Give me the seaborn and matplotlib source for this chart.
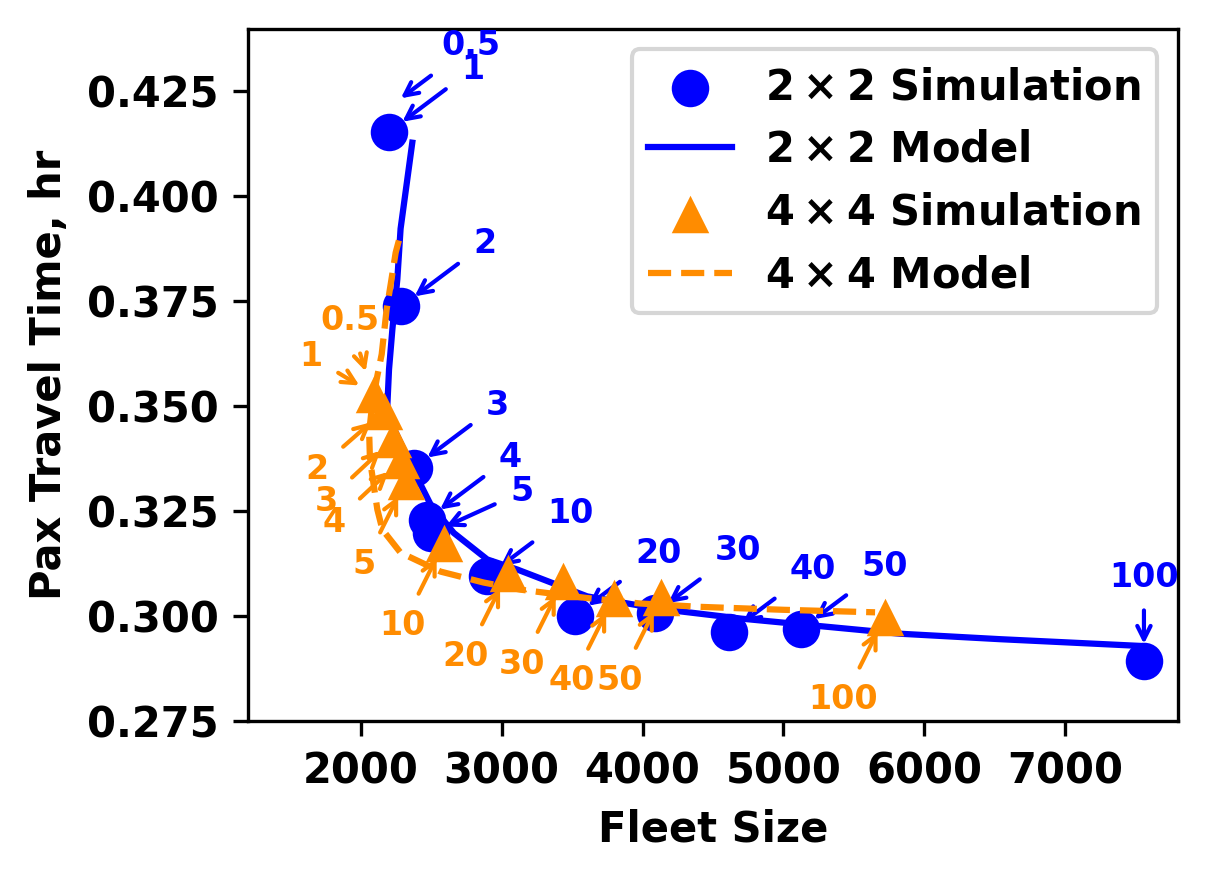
import matplotlib
matplotlib.use("Agg")
import matplotlib.pyplot as plt
import seaborn as sns

plt.rcParams["font.family"] = ["DejaVu Sans"]
plt.rcParams["font.weight"] = "bold"
plt.rcParams["axes.labelweight"] = "bold"

# parameter value shown next to each simulation point
params = ["0.5", "1", "2", "3", "4", "5", "10", "20", "30", "40", "50", "100"]

# 2x2 network, simulation results
sim22_fleet = [2190, 2201, 2288, 2378, 2468, 2496, 2898, 3519, 4086, 4617, 5125, 7558]
sim22_time = [0.4210, 0.4154, 0.3738, 0.3354, 0.3230, 0.3197, 0.3095, 0.3001, 0.3007, 0.2961, 0.2969, 0.2894]

# 4x4 network, simulation results
sim44_fleet = [2071, 2092, 2163, 2227, 2283, 2319, 2592, 3042, 3437, 3795, 4133, 5721]
sim44_time = [0.3545, 0.3529, 0.3488, 0.3421, 0.3371, 0.3321, 0.3175, 0.3102, 0.3084, 0.3044, 0.3046, 0.2999]

# model curves
model22_fleet = [2366, 2283, 2260, 2225, 2201, 2189, 2213, 2248, 2354, 2496, 2661, 2898, 3111, 3607, 4100, 4700, 5827, 6536, 7528]
model22_time = [0.4128, 0.3923, 0.3803, 0.3684, 0.3588, 0.3501, 0.3462, 0.3438, 0.3361, 0.3266, 0.3198, 0.3135, 0.3111, 0.3047, 0.3018, 0.2994, 0.2958, 0.2945, 0.2929]

model44_fleet = [2271, 2248, 2213, 2184, 2149, 2113, 2080, 2060, 2065, 2078, 2118, 2154, 2283, 2567, 2872, 3134, 3607, 3984, 4410, 5000, 5650]
model44_time = [0.3895, 0.3866, 0.3791, 0.3731, 0.3624, 0.3564, 0.3500, 0.3438, 0.3380, 0.3345, 0.3254, 0.3206, 0.3151, 0.3106, 0.3080, 0.3063, 0.3043, 0.3030, 0.3022, 0.3015, 0.3009]

# label offsets (points)
off22 = [(20, 15)] * 5 + [(22, 10)] + [(20, 15)] * 5 + [(0, 20)]
off44 = [(-5, 16), (-15, 9), (-16, -14), (-16, -15), (-16, -15), (-10, -20)] + [(-10, -20)] * 6

blue = "#0000ff"
orange = "#ff8c00"

fig, ax = plt.subplots(figsize=(1209 / 300, 878 / 300), dpi=300)
fig.subplots_adjust(left=0.2051, right=0.9744, bottom=0.1788, top=0.9675)

# the 0.5 case is annotated only, no marker
sns.scatterplot(x=sim22_fleet[1:], y=sim22_time[1:], marker="o", s=81, color=blue,
                linewidth=0, label=r"$\mathbf{2\times2}$ Simulation", ax=ax, zorder=3)
sns.lineplot(x=model22_fleet, y=model22_time, sort=False, estimator=None, color=blue,
             linewidth=1.5, label=r"$\mathbf{2\times2}$ Model", ax=ax, zorder=3)
sns.scatterplot(x=sim44_fleet[1:], y=sim44_time[1:], marker="^", s=81, color=orange,
                linewidth=0, label=r"$\mathbf{4\times4}$ Simulation", ax=ax, zorder=4)
sns.lineplot(x=model44_fleet, y=model44_time, sort=False, estimator=None, color=orange,
             linewidth=1.5, linestyle="--", label=r"$\mathbf{4\times4}$ Model", ax=ax, zorder=4)

for lab, x, y, off in zip(params, sim22_fleet, sim22_time, off22):
    ax.annotate(lab, xy=(x, y), xytext=off, textcoords="offset points",
                ha="center", va="center", fontsize=8, fontweight="bold", color=blue,
                arrowprops=dict(arrowstyle="->", color=blue, lw=1, shrinkA=2, shrinkB=4))

for lab, x, y, off in zip(params, sim44_fleet, sim44_time, off44):
    ax.annotate(lab, xy=(x, y), xytext=off, textcoords="offset points",
                ha="center", va="center", fontsize=8, fontweight="bold", color=orange,
                arrowprops=dict(arrowstyle="->", color=orange, lw=1, shrinkA=2, shrinkB=4))

ax.set_xlim(1200, 7800)
ax.set_ylim(0.275, 0.44)
ax.set_xticks([2000, 3000, 4000, 5000, 6000, 7000])
ax.set_yticks([0.275, 0.300, 0.325, 0.350, 0.375, 0.400, 0.425])
ax.set_xlabel("Fleet Size", fontsize=10)
ax.set_ylabel("Pax Travel Time, hr", fontsize=10)
ax.tick_params(labelsize=10)
ax.legend(loc="upper right", fontsize=10)

fig.savefig("out.png", dpi=300)
